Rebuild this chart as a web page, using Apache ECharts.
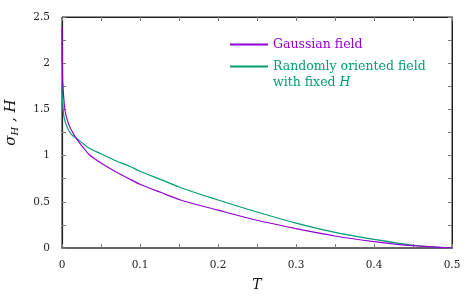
<!DOCTYPE html>
<html>
<head>
<meta charset="utf-8">
<script src="https://cdn.jsdelivr.net/npm/echarts@6/dist/echarts.min.js"></script>
<style>
  html, body { margin: 0; padding: 0; background: #fff; }
  #chart { width: 473px; height: 296px; }
</style>
</head>
<body>
<div id="chart"></div>
<script>
// Gaussian field
const gaussT = [0, 0.0005, 0.001, 0.003, 0.005, 0.009, 0.013, 0.018, 0.027, 0.035, 0.05, 0.07, 0.088, 0.1, 0.127, 0.152, 0.2, 0.25, 0.3, 0.35, 0.4, 0.45, 0.5];
const gaussV = [2.39, 2.0, 1.79, 1.55, 1.44, 1.33, 1.26, 1.19, 1.09, 1.01, 0.92, 0.82, 0.74, 0.69, 0.60, 0.52, 0.41, 0.30, 0.21, 0.13, 0.07, 0.025, 0];
// randomly oriented field with fixed H
const randT = [0, 0.001, 0.003, 0.007, 0.012, 0.018, 0.035, 0.05, 0.069, 0.088, 0.1, 0.127, 0.15, 0.2, 0.25, 0.3, 0.35, 0.4, 0.45, 0.5];
const randV = [1.75, 1.55, 1.40, 1.30, 1.23, 1.19, 1.08, 1.02, 0.945, 0.88, 0.83, 0.74, 0.66, 0.52, 0.39, 0.27, 0.17, 0.094, 0.03, 0];

const xTicks = ['0', '0.1', '0.2', '0.3', '0.4', '0.5'];
const yTicks = ['0', '0.5', '1', '1.5', '2', '2.5'];

const font = 'DejaVu Serif';
const purple = '#9400d3';
const green = '#009e73';

const chart = echarts.init(document.getElementById('chart'));

function pairs(xs, ys) {
  return xs.map((x, i) => [x, ys[i]]);
}

// inward ticks, major + one minor between
function ticks() {
  return { show: true, inside: true, length: 4, lineStyle: { color: '#777', width: 1 } };
}
function minor() {
  return { show: true, splitNumber: 2, length: 4, lineStyle: { color: '#777', width: 1 } };
}

const option = {
  backgroundColor: '#fff',
  animation: false,
  grid: {
    left: 62, right: 21, top: 17, bottom: 48,
    outerBoundsMode: 'none',
    containLabel: false,
    show: true, borderColor: '#222', borderWidth: 1
  },
  legend: {
    orient: 'vertical',
    left: 225,
    top: 33,
    itemWidth: 38,
    itemHeight: 2,
    itemGap: 9,
    icon: 'rect',
    textStyle: { fontFamily: font, fontSize: 12.5 },
    data: [
      { name: 'Gaussian field', textStyle: { color: purple } },
      { name: 'Randomly oriented field', textStyle: { color: green } }
    ]
  },
  graphic: [{
    type: 'text',
    left: 273,
    top: 76,
    style: {
      text: '{a|with fixed }{i|H}',
      rich: {
        a: { fontFamily: font, fontSize: 12.5, fill: green },
        i: { fontFamily: font, fontSize: 12.5, fontStyle: 'italic', fill: green }
      }
    }
  }],
  xAxis: [{
    type: 'value',
    gridIndex: 0,
    min: 0, max: 0.5, interval: 0.1,
    name: 'T',
    nameLocation: 'middle',
    nameGap: 30,
    nameTextStyle: { fontFamily: font, fontSize: 14, fontStyle: 'italic', color: '#111' },
    axisLine: { show: true, onZero: false, lineStyle: { color: '#666', width: 2 } },
    axisTick: ticks(),
    minorTick: minor(),
    splitLine: { show: false },
    axisLabel: {
      margin: 12, fontFamily: font, fontSize: 10.5, color: '#222',
      formatter: v => xTicks[Math.round(v * 10)]
    }
  }, {
    type: 'value',
    gridIndex: 0,
    position: 'top',
    min: 0, max: 0.5, interval: 0.1,
    axisLine: { show: true, onZero: false, lineStyle: { color: '#222', width: 1 } },
    axisTick: ticks(),
    minorTick: minor(),
    splitLine: { show: false },
    axisLabel: { show: false }
  }],
  yAxis: [{
    type: 'value',
    gridIndex: 0,
    min: 0, max: 2.5, interval: 0.5,
    name: '{s|σ}{sub|H}{s| , }{i|H}',
    nameLocation: 'middle',
    nameGap: 42,
    nameTextStyle: {
      color: '#111',
      padding: [0, 0, 0, 20],
      rich: {
        s: { fontFamily: font, fontSize: 15, fontStyle: 'italic', color: '#111' },
        sub: { fontFamily: font, fontSize: 10, fontStyle: 'italic', color: '#111', verticalAlign: 'bottom', padding: [7, 0, 0, 0] },
        i: { fontFamily: font, fontSize: 15, fontStyle: 'italic', color: '#111' }
      }
    },
    axisLine: { show: true, onZero: false, lineStyle: { color: '#222', width: 1.2 } },
    axisTick: ticks(),
    minorTick: minor(),
    splitLine: { show: false },
    axisLabel: {
      margin: 12, fontFamily: font, fontSize: 10.5, color: '#222',
      formatter: v => yTicks[Math.round(v * 2)]
    }
  }, {
    type: 'value',
    gridIndex: 0,
    position: 'right',
    min: 0, max: 2.5, interval: 0.5,
    axisLine: { show: true, onZero: false, lineStyle: { color: '#222', width: 1 } },
    axisTick: ticks(),
    minorTick: minor(),
    splitLine: { show: false },
    axisLabel: { show: false }
  }],
  series: [{
    name: 'Gaussian field',
    type: 'line',
    data: pairs(gaussT, gaussV),
    showSymbol: false,
    smooth: 0.3,
    lineStyle: { color: purple, width: 1.2 },
    itemStyle: { color: purple },
    z: 3
  }, {
    name: 'Randomly oriented field',
    type: 'line',
    data: pairs(randT, randV),
    showSymbol: false,
    smooth: 0.3,
    lineStyle: { color: green, width: 1.2 },
    itemStyle: { color: green },
    z: 2
  }, {
    // empty series so the mirrored top/right axes are laid out
    type: 'line',
    xAxisIndex: 1,
    yAxisIndex: 1,
    data: [],
    silent: true
  }]
};

chart.setOption(option);
</script>
</body>
</html>
